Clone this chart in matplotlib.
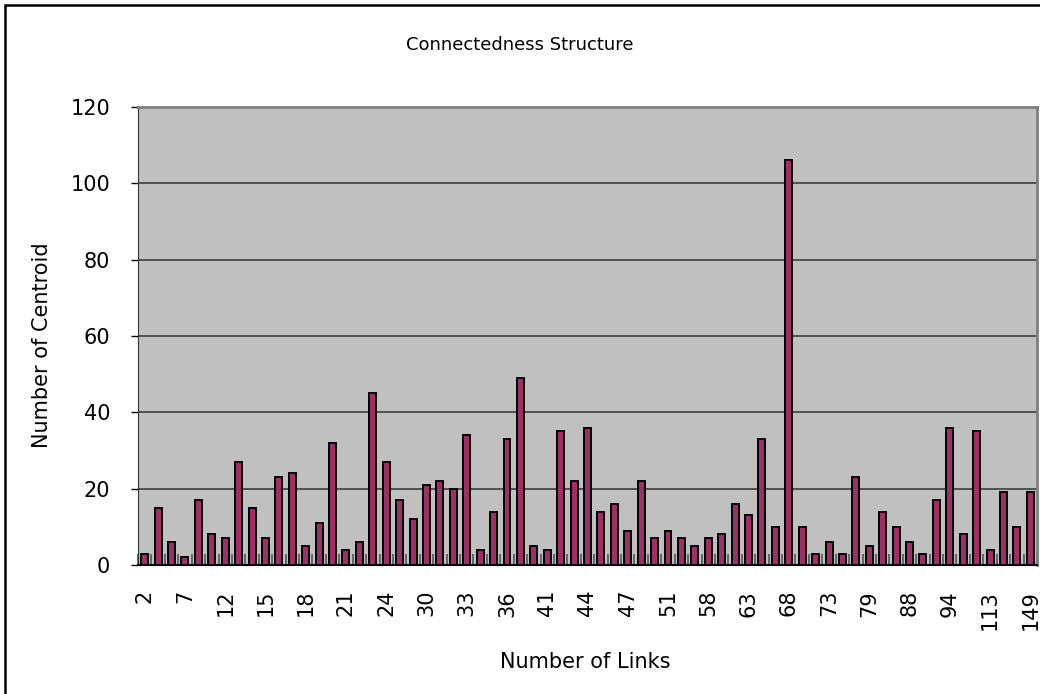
import numpy as np
from matplotlib import pyplot as plt
from matplotlib.patches import Rectangle

plt.rcParams['font.family'] = 'DejaVu Sans'
plt.rcParams['font.size'] = 11

# number of centroids for each link count (67 categories)
values = [3, 15, 6, 2, 17, 8, 7, 27, 15, 7, 23, 24, 5, 11, 32, 4, 6, 45,
          27, 17, 12, 21, 22, 20, 34, 4, 14, 33, 49, 5, 4, 35, 22, 36, 14, 16,
          9, 22, 7, 9, 7, 5, 7, 8, 16, 13, 33, 10, 106, 10, 3, 6, 3, 23,
          5, 14, 10, 6, 3, 17, 36, 8, 35, 4, 19, 10, 19]
# only every third category label is printed on the axis
shown_labels = ['2', '7', '12', '15', '18', '21', '24', '30', '33', '36', '41',
                '44', '47', '51', '58', '63', '68', '73', '79', '88', '94',
                '113', '149']
yticks = [0, 20, 40, 60, 80, 100, 120]

W, H = 1040, 694
fig = plt.figure(figsize=(W / 100, H / 100), dpi=100)
ax = fig.add_axes([138 / W, 1 - 565 / H, (1037 - 138) / W, (565 - 107) / H])

# outer chart frame
fig.patches.append(Rectangle((5 / W, -0.1), 1.2, 1 - 5 / H + 0.1,
                             transform=fig.transFigure, fill=False,
                             edgecolor='black', linewidth=1.8))

x = np.arange(len(values))
ax.set_facecolor('#c0c0c0')
ax.bar(x, values, width=0.52, color='#993366', edgecolor='black',
       linewidth=1.4, zorder=3)

ax.set_xlim(-0.5, len(values) - 0.5)
ax.set_ylim(0, 120)
ax.set_yticks(yticks)
ax.yaxis.grid(True, color='#333333', linewidth=1.1, zorder=1)
ax.tick_params(axis='y', direction='out', length=5, width=1,
               labelsize=15, pad=15)

ax.set_xticks(x[::3])
ax.set_xticklabels(shown_labels, rotation=90, fontsize=15)
ax.set_xticks(np.arange(len(values) + 1) - 0.5, minor=True)
ax.tick_params(axis='x', which='major', length=0, pad=18)
ax.tick_params(axis='x', which='minor', direction='in', length=8,
               width=1.2, color='#555555')

for s in ['top', 'right']:
    ax.spines[s].set_color('#808080')
    ax.spines[s].set_linewidth(2)
ax.spines['left'].set_color('#333333')
ax.spines['bottom'].set_color('black')
ax.spines['bottom'].set_linewidth(1.5)

fig.text(520 / W, 1 - 45 / H, 'Connectedness Structure', ha='center',
         va='center', fontsize=13)
fig.text(42 / W, 1 - 345 / H, 'Number of Centroid', ha='center', va='center',
         rotation=90, fontsize=15)
fig.text(585 / W, 1 - 662 / H, 'Number of Links', ha='center', va='center',
         fontsize=15)

fig.savefig('out.png', dpi=100)
